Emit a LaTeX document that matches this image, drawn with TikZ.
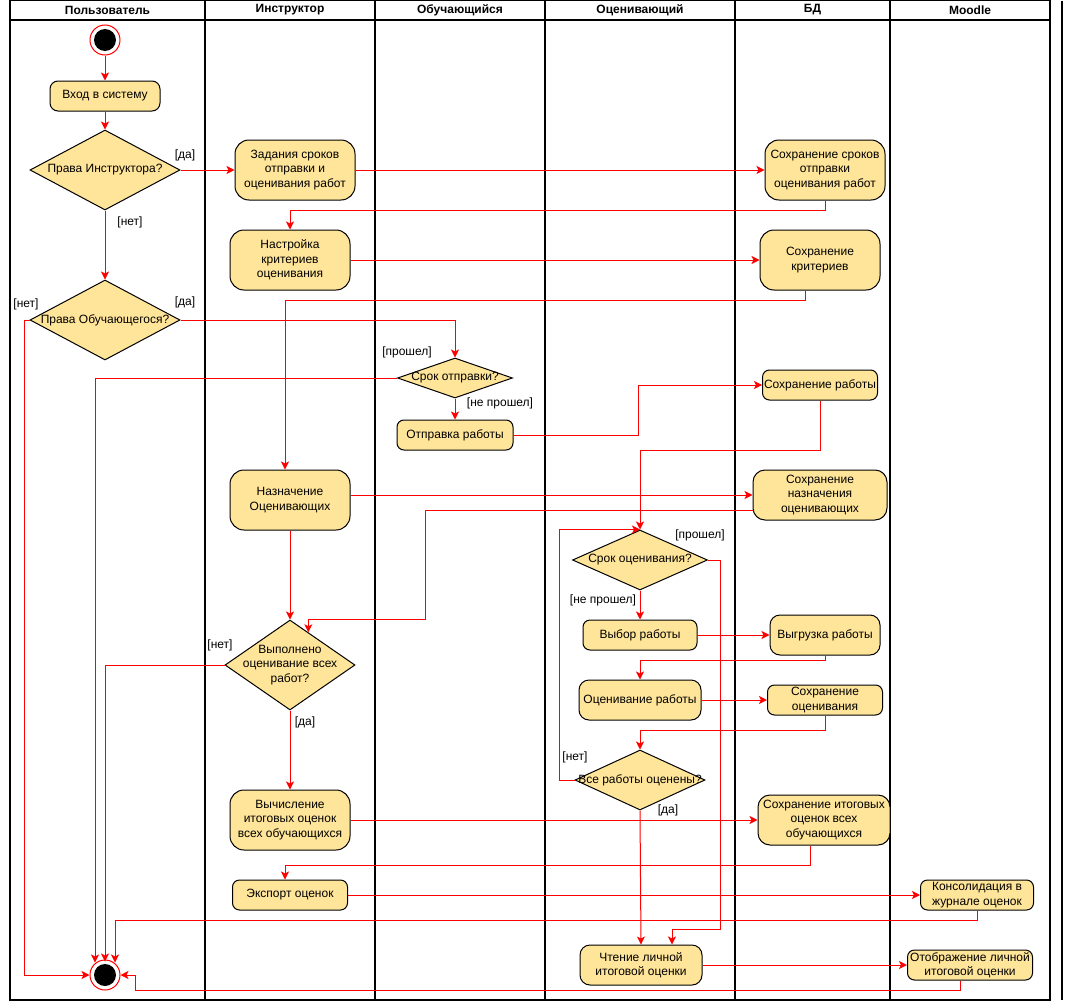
\documentclass[tikz,border=0pt]{standalone}
\usepackage{fontspec}
\setmainfont{Liberation Sans}
\usetikzlibrary{shapes.geometric,arrows.meta,calc}
\definecolor{actfill}{HTML}{FFE599}
\definecolor{flowred}{HTML}{FF0000}
\begin{document}
\begin{tikzpicture}[x=1pt,y=-1pt,
  every node/.style={font=\fontsize{12}{14.5}\selectfont},
  act/.style={draw=black, fill=actfill, line width=1pt, rounded corners=#1,
    align=center, inner sep=1pt},
  act/.default=14pt,
  dec/.style={draw=black, fill=actfill, line width=1pt, diamond, inner sep=0pt},
  dectext/.style={align=center, inner sep=0pt, font=\fontsize{12}{14.5}\selectfont},
  flow/.style={draw=flowred, line width=1pt, -{Stealth[length=8pt,width=8pt,inset=2pt]}},
  guard/.style={inner sep=0pt, font=\fontsize{12}{14.5}\selectfont},
  lane/.style={draw=black, line width=1.2pt},
  head/.style={font=\bfseries\fontsize{12}{14.5}\selectfont, inner sep=0pt}]
\useasboundingbox (0,0) rectangle (1066,1001);

% swimlanes
\draw[lane] (10,0.6) rectangle (1050,1000);
\draw[lane] (10,20) -- (1050,20);
\foreach \lx in {205,375,545,735,890} \draw[lane] (\lx,0.6) -- (\lx,1000);
\draw[lane] (1062,0.6) -- (1062,1000);
\node[head] (h1) at (107.5,10) {Пользователь};
\node[head] (h2) at (290,10) {Инструктор};
\node[head] (h3) at (460,10) {Обучающийся};
\node[head] (h4) at (640,10) {Оценивающий};
\node[head] (h5) at (812.5,10) {БД};
\node[head] (h6) at (970,10) {Moodle};

% start and end
\node[circle, draw=flowred, fill=white, line width=1pt, minimum size=30pt, inner sep=0pt] (start) at (105,40) {};
\node[circle, fill=black, minimum size=22pt, inner sep=0pt] (startcore) at (start) {};
\node[circle, draw=flowred, fill=white, line width=1pt, minimum size=30pt, inner sep=0pt] (end) at (105,975) {};
\node[circle, fill=black, minimum size=22pt, inner sep=0pt] (endcore) at (end) {};

% activities
\node[act=8pt, minimum width=110pt, minimum height=30pt] (login) at (105,96) {Вход в систему};
\node[act, minimum width=120pt, minimum height=60pt] (t1) at (295,170) {Задания сроков\\отправки и\\оценивания работ};
\node[act, minimum width=120pt, minimum height=60pt] (s1) at (825,170) {Сохранение сроков\\отправки\\оценивания работ};
\node[act, minimum width=120pt, minimum height=60pt] (t2) at (290,260) {Настройка\\критериев\\оценивания};
\node[act, minimum width=120pt, minimum height=60pt] (s2) at (820,260) {Сохранение\\критериев};
\node[act=7pt, minimum width=116pt, minimum height=30pt] (a1) at (455,435) {Отправка работы};
\node[act=7pt, minimum width=115pt, minimum height=30pt] (s3) at (820,385) {Сохранение работы};
\node[act, minimum width=120pt, minimum height=60pt] (t3) at (290,500) {Назначение\\Оценивающих};
\node[act=12pt, minimum width=134pt, minimum height=50pt] (s4) at (820,495) {Сохранение\\назначения\\оценивающих};
\node[act=7pt, minimum width=114pt, minimum height=30pt] (e1) at (640,635) {Выбор работы};
\node[act=10pt, minimum width=110pt, minimum height=40pt] (s5) at (825,635) {Выгрузка работы};
\node[act=10pt, minimum width=122pt, minimum height=40pt] (e2) at (640,700) {Оценивание работы};
\node[act=7pt, minimum width=115pt, minimum height=30pt] (s6) at (825,700) {Сохранение\\оценивания};
\node[act, minimum width=120pt, minimum height=60pt] (t4) at (290,820) {Вычисление\\итоговых оценок\\всех обучающихся};
\node[act=12pt, minimum width=132pt, minimum height=50pt] (s7) at (824,820) {Сохранение итоговых\\оценок всех\\обучающихся};
\node[act=7pt, minimum width=115pt, minimum height=30pt] (t5) at (290,895) {Экспорт оценок};
\node[act=7pt, minimum width=113pt, minimum height=30pt] (m1) at (977,895) {Консолидация в\\журнале оценок};
\node[act=10pt, minimum width=122pt, minimum height=40pt] (e3) at (641,965) {Чтение личной\\итоговой оценки};
\node[act=7pt, minimum width=125pt, minimum height=30pt] (m2) at (970,965) {Отображение личной\\итоговой оценки};

% decisions
\node[dec, minimum width=150pt, minimum height=80pt, label={[dectext]center:Права Инструктора?}] (d1) at (105,170) {};
\node[dec, minimum width=150pt, minimum height=80pt, label={[dectext]center:Права Обучающегося?}] (d2) at (105,320) {};
\node[dec, minimum width=115pt, minimum height=40pt, label={[dectext]center:Срок отправки?}] (d3) at (455,378) {};
\node[dec, minimum width=135pt, minimum height=60pt, label={[dectext]center:Срок оценивания?}] (d4) at (640,560) {};
\node[dec, minimum width=130pt, minimum height=60pt, label={[dectext]center:Все работы оценены?}] (d5) at (640,780) {};
\node[dec, minimum width=130pt, minimum height=90pt, label={[dectext]center:{Выполнено\\оценивание всех\\работ?}}] (d6) at (290,665) {};

% guard labels
\node[guard] (g1) at (185,155) {[да]};
\node[guard] (g2) at (130,222) {[нет]};
\node[guard] (g3) at (185,302) {[да]};
\node[guard] (g4) at (26,304) {[нет]};
\node[guard] (g5) at (407,352) {[прошел]};
\node[guard] (g6) at (500,403) {[не прошел]};
\node[guard] (g7) at (700,535) {[прошел]};
\node[guard] (g8) at (603,600) {[не прошел]};
\node[guard] (g9) at (575,757) {[нет]};
\node[guard] (g10) at (668,810) {[да]};
\node[guard] (g11) at (220,645) {[нет]};
\node[guard] (g12) at (305,722) {[да]};

% control flow
\draw[flow] (start) -- (login);
\draw[flow] (login) -- (d1);
\draw[flow] (d1.east) -- (t1.west);
\draw[flow] (d1.south) -- (d2.north);
\draw[flow] (t1.east) -- (s1.west);
\draw[flow] (s1.south) -- ++(0,10) -| (t2.north);
\draw[flow] (t2.east) -- (s2.west);
\draw[flow] ([xshift=-15pt]s2.south) -- ++(0,10) -| ([xshift=-5pt]t3.north);
\draw[flow] (d2.east) -| (d3.north);
\draw[flow] (d2.west) -- ++(-5,0) |- (end.west);
\draw[flow] (d3.west) -| ($(end.north)+(-10,3)$);
\draw[flow] (d3.south) -- (a1.north);
\draw[flow] (a1.east) -- ++(125,0) |- (s3.west);
\draw[flow] (s3.south) -- ++(0,50) -| (d4.north);
\draw[flow] (t3.east |- s4.west) -- (s4.west);
\draw[flow] ([yshift=-15pt]s4.west) -| ($(d6.north)+(135,0)$) -| ($(d6.north)!0.28!(d6.east)$);
\draw[flow] (t3.south) -- (d6.north);
\draw[flow] (d6.west) -| ($(end.north)+(0,2)$);
\draw[flow] (d6.south) -- (t4.north);
\draw[flow] (t4.east) -- (s7.west);
\draw[flow] ([xshift=-14pt]s7.south) -- ++(0,20) -| ([xshift=-5pt]t5.north);
\draw[flow] (t5.east) -- (m1.west);
\draw[flow] (m1.south) -- ++(0,10) -| ($(end.north)+(10,3)$);
\draw[flow] (d4.east) -- ++(12,0) |- ($(e3.north)+(31,-15)$) -- ($(e3.north)+(31,0)$);
\draw[flow] (d4.south) -- (e1.north);
\draw[flow] (e1.east) -- (s5.west);
\draw[flow] (s5.south) -- ++(0,5) -| (e2.north);
\draw[flow] (e2.east) -- (s6.west);
\draw[flow] (s6.south) -- ++(0,15) -| (d5.north);
\draw[flow] (d5.west) -- ++(-15,0) |- (d4.north);
\draw[flow] (d5.south) -- (e3.north);
\draw[flow] (e3.east) -- (m2.west);
\draw[flow] ([xshift=-10pt]m2.south) -- ++(0,10) -| ($(end.east)+(15,0)$) -- (end.east);
\end{tikzpicture}
\end{document}
